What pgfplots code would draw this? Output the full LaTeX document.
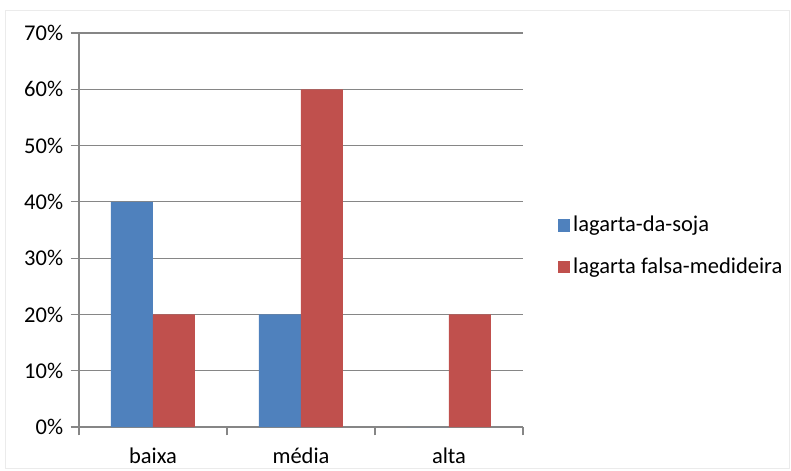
\documentclass[border=0pt]{standalone}
\usepackage{pgfplots}
\pgfplotsset{compat=1.18}
\usepackage{fontspec}
\setmainfont{Carlito}
\definecolor{serieA}{HTML}{4F81BD}
\definecolor{serieB}{HTML}{C0504D}
\definecolor{eixo}{HTML}{868686}
\begin{document}
\begin{tikzpicture}[x=0.6pt,y=0.6pt]
\useasboundingbox (0,0) rectangle (791,470);
\draw[black!8] (5,2) rectangle (789,460);
\begin{axis}[
  at={(47.4pt,25.8pt)}, anchor=south west,
  scale only axis, width=266.4pt, height=236.4pt,
  ybar=0pt, bar width=25.2pt,
  xmin=-0.5, xmax=2.5, ymin=0, ymax=70,
  xtick={0,1,2}, xticklabels={baixa,média,alta},
  minor xtick={-0.5,0.5,1.5,2.5},
  major x tick style={draw=none},
  minor tick length=5pt,
  ytick={0,10,...,70},
  yticklabel={\pgfmathprintnumber{\tick}\%},
  /pgf/number format/assume math mode=true,
  ymajorgrids,
  grid style={eixo, line width=0.7pt},
  axis x line*=bottom, axis y line*=left,
  axis line style={eixo, line width=0.7pt, -},
  tick style={eixo, line width=0.7pt},
  major tick length=5pt,
  tick align=outside,
  ticklabel style={font=\fontsize{13.5}{16}\selectfont},
  yticklabel style={xshift=-1pt},
  xticklabel style={yshift=-4pt},
  legend cell align=left,
  legend style={draw=none, at={(1.077,0.459)}, anchor=west,
    font=\fontsize{13.5}{16}\selectfont, row sep=10pt, inner sep=0pt,
    /tikz/every even column/.append style={column sep=4pt}},
  legend image code/.code={\fill[#1] (0pt,-3.7pt) rectangle (7.4pt,3.7pt);},
]
\addplot[fill=serieA, draw=none] coordinates {(0,40) (1,20) (2,0)};
\addplot[fill=serieB, draw=none] coordinates {(0,20) (1,60) (2,20)};
\legend{lagarta-da-soja, lagarta falsa-medideira}
\end{axis}
\end{tikzpicture}
\end{document}
